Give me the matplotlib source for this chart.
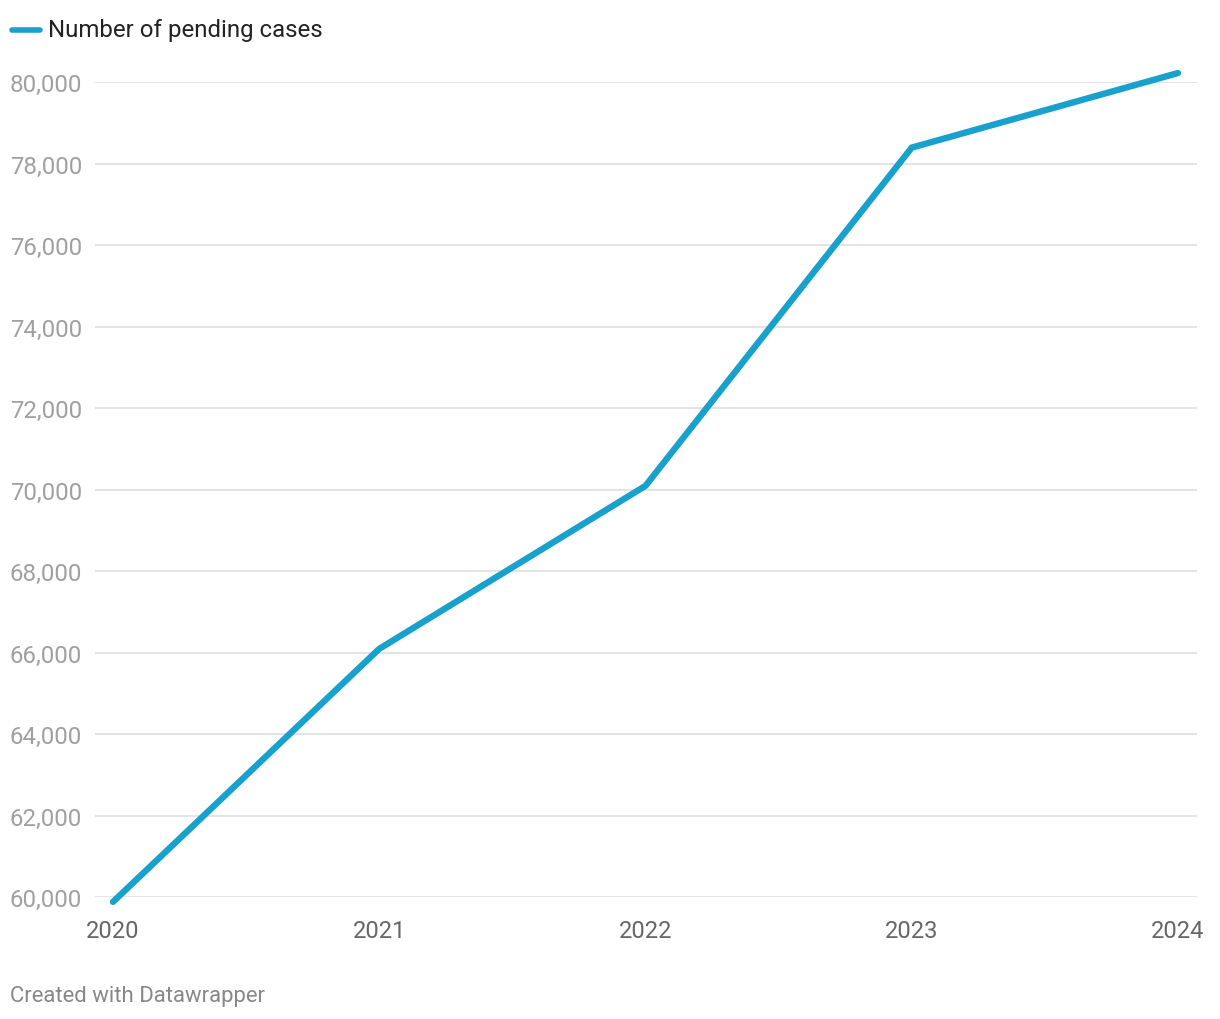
import matplotlib.pyplot as plt

years = [2020, 2021, 2022, 2023, 2024]
pending_cases = [59880, 66090, 70090, 78390, 80220]
y_ticks = [60000, 62000, 64000, 66000, 68000, 70000, 72000, 74000, 76000, 78000, 80000]

plt.rcParams['font.family'] = ['Roboto', 'DejaVu Sans']

W, H = 1220, 1020
fig = plt.figure(figsize=(W / 100, H / 100), dpi=100)

# axes box in pixels: gridlines run 95..1197, 60k at y=898, 80k at y=83
left, right = 95, 1197
top, bottom = 83, 898
ax = fig.add_axes([left / W, 1 - bottom / H, (right - left) / W, (bottom - top) / H])

x0_px, x1_px = 113, 1178
per_year = (x1_px - x0_px) / 4
ax.set_xlim(2020 - (x0_px - left) / per_year, 2024 + (right - x1_px) / per_year)
ax.set_ylim(60000, 80000)

color = '#18a1cd'
ax.plot(years, pending_cases, color=color, lw=4.6, solid_capstyle='round',
        solid_joinstyle='miter', clip_on=False, zorder=3)

ax.set_yticks(y_ticks)
ax.set_yticklabels([f'{v:,}' for v in y_ticks])
ax.set_xticks(years)
ax.set_xticklabels([str(y) for y in years])
ax.grid(axis='y', color='#e2e2e2', lw=1.3)
ax.set_axisbelow(True)
for s in ax.spines.values():
    s.set_visible(False)
ax.tick_params(axis='y', length=0, pad=9.4, labelsize=17.3, labelcolor='#a0a0a0')
ax.tick_params(axis='x', length=0, pad=15.5, labelsize=17, labelcolor='#666666')
for lbl in ax.get_xticklabels():
    lbl.set_x(lbl.get_position()[0])

# legend
fig.add_artist(plt.Line2D([12 / W, 40 / W], [1 - 31 / H, 1 - 31 / H], color=color,
                          lw=4, solid_capstyle='round'))
fig.text(48 / W, 1 - 31 / H, 'Number of pending cases', fontsize=17.3, color='#222222',
         va='center', ha='left')

fig.text(10 / W, 1 - 997 / H, 'Created with Datawrapper', fontsize=15.9, color='#888888',
         va='center', ha='left')

fig.savefig('out.png', dpi=100)
